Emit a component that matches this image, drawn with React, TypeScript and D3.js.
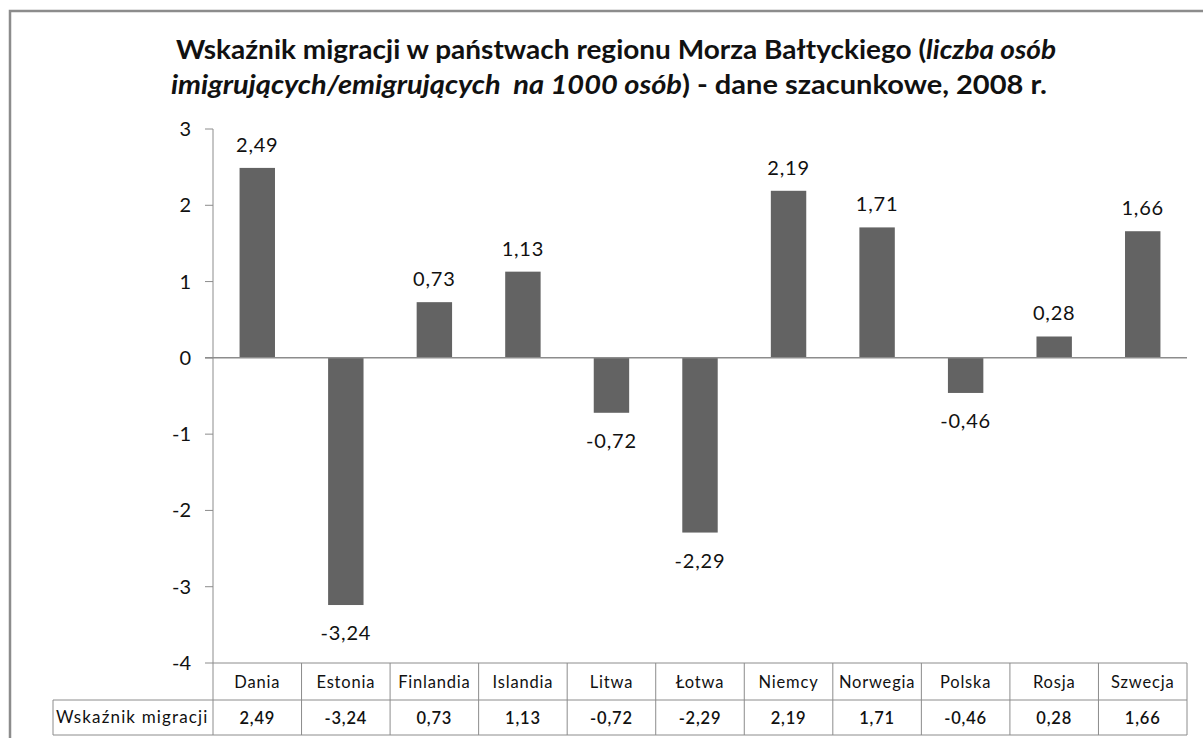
import React from "react";
import * as d3 from "d3";

const categories = ["Dania", "Estonia", "Finlandia", "Islandia", "Litwa", "Łotwa", "Niemcy", "Norwegia", "Polska", "Rosja", "Szwecja"];
const values = [2.49, -3.24, 0.73, 1.13, -0.72, -2.29, 2.19, 1.71, -0.46, 0.28, 1.66];
const yTicks = [3, 2, 1, 0, -1, -2, -3, -4];
const seriesName = "Wskaźnik migracji";
const titleLine1 = "Wskaźnik migracji w państwach regionu Morza Bałtyckiego (";
const titleLine1Italic = "liczba osób";
const titleLine2Italic = "imigrujących/emigrujących  na 1000 osób";
const titleLine2 = ") - dane szacunkowe, 2008 r.";

const W = 1203;
const H = 738;
const plotLeft = 213;
const plotRight = 1187;
const fmt = (v: number) => v.toFixed(2).replace(".", ",");

export default function App() {
  const x = d3.scaleBand<string>().domain(categories).range([plotLeft, plotRight]).paddingInner(0.6).paddingOuter(0.3);
  const cat = d3.scaleBand<string>().domain(categories).range([plotLeft, plotRight]);
  const y = d3.scaleLinear().domain([-4, 3]).range([663, 129]);
  const font = "Lato, 'Open Sans', sans-serif";
  const grey = "#8c8c8c";
  const rowTop = y(-4);
  const rowMid = 700;
  const rowBot = 735;
  const labelLeft = 53;
  return (
    <svg width={W} height={H} style={{ position: "absolute", left: 0, top: 0, display: "block" }} fontFamily={font}>
      <rect x={0} y={0} width={W} height={H} fill="#fff" />
      <rect x={10} y={11} width={W + 20} height={H + 20} fill="#fff" stroke={grey} strokeWidth={2.5} />
      <text x={616} y={59} textAnchor="middle" fontSize={26} fontWeight="bold" fill="#111" textLength={880} lengthAdjust="spacingAndGlyphs">
        <tspan>{titleLine1}</tspan>
        <tspan fontStyle="italic">{titleLine1Italic}</tspan>
      </text>
      <text x={609} y={94} textAnchor="middle" fontSize={26} fontWeight="bold" fill="#111" textLength={876} lengthAdjust="spacingAndGlyphs" style={{ whiteSpace: "pre" }}>
        <tspan fontStyle="italic">{titleLine2Italic}</tspan>
        <tspan>{titleLine2}</tspan>
      </text>
      {/* y axis */}
      <line x1={plotLeft} x2={plotLeft} y1={y(3)} y2={rowTop} stroke={grey} strokeWidth={1} />
      {yTicks.map((t) => (
        <g key={t}>
          <line x1={plotLeft - 8} x2={plotLeft} y1={y(t)} y2={y(t)} stroke={grey} />
          <text x={191} y={y(t)} dy="0.35em" textAnchor="end" fontSize={20} fill="#111">
            {t < 0 ? "-" + Math.abs(t) : t}
          </text>
        </g>
      ))}
      {/* bars */}
      {categories.map((c, i) => {
        const v = values[i];
        const y0 = y(Math.max(0, v));
        const y1 = y(Math.min(0, v));
        return (
          <g key={c}>
            <rect x={x(c)} y={y0} width={x.bandwidth()} height={y1 - y0} fill="#636363" />
            <text
              x={(x(c) as number) + x.bandwidth() / 2}
              y={v >= 0 ? y(v) - 16 : y(v) + 35}
              textAnchor="middle"
              fontSize={20}
              letterSpacing={0.8}
              fill="#111"
            >
              {fmt(v)}
            </text>
          </g>
        );
      })}
      {/* zero line */}
      <line x1={plotLeft - 8} x2={plotRight} y1={y(0)} y2={y(0)} stroke={grey} strokeWidth={1.5} />
      {/* data table */}
      <line x1={plotLeft} x2={plotRight} y1={rowTop} y2={rowTop} stroke={grey} />
      <line x1={labelLeft} x2={plotRight} y1={rowMid} y2={rowMid} stroke={grey} />
      <line x1={labelLeft} x2={plotRight} y1={rowBot} y2={rowBot} stroke={grey} />
      <line x1={labelLeft} x2={labelLeft} y1={rowMid} y2={rowBot} stroke={grey} />
      {categories.map((c) => (
        <line key={c} x1={(cat(c) as number) + cat.bandwidth()} x2={(cat(c) as number) + cat.bandwidth()} y1={rowTop} y2={rowBot} stroke={grey} />
      ))}
      <line x1={plotLeft} x2={plotLeft} y1={rowTop} y2={rowBot} stroke={grey} />
      <text x={labelLeft + 3} y={(rowMid + rowBot) / 2} dy="0.35em" fontSize={17} letterSpacing={0.7} fill="#111" textLength={152} lengthAdjust="spacing">
        {seriesName}
      </text>
      {categories.map((c, i) => (
        <g key={c}>
          <text x={(cat(c) as number) + cat.bandwidth() / 2} y={(rowTop + rowMid) / 2 + 1} dy="0.35em" textAnchor="middle" fontSize={16.5} letterSpacing={0.8} fill="#111">
            {c}
          </text>
          <text x={(cat(c) as number) + cat.bandwidth() / 2} y={(rowMid + rowBot) / 2 + 1} dy="0.35em" textAnchor="middle" fontSize={16.5} letterSpacing={0.8} fontWeight={600} fill="#111">
            {fmt(values[i])}
          </text>
        </g>
      ))}
    </svg>
  );
}
